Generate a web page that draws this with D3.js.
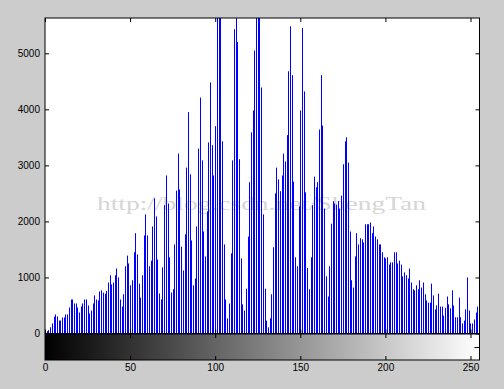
<!DOCTYPE html>
<html>
<head>
<meta charset="utf-8">
<script src="https://cdn.jsdelivr.net/npm/d3@7"></script>
<style>
body { margin: 0; background: #cccccc; }
svg { display: block; }
.tick text { font-family: "Liberation Sans", Arial, sans-serif; font-size: 10px; fill: #000; }
</style>
</head>
<body>
<svg width="504" height="389"></svg>
<script>
// pixel counts per gray level (bars above the top are clipped)
const counts = [
  24, 40, 60, 110, 180, 300, 340, 305, 232, 232,
  285, 285, 340, 340, 465, 607, 607, 536, 536, 465,
  375, 482, 536, 607, 607, 500, 357, 410, 536, 680,
  607, 590, 750, 770, 730, 710, 760, 910, 1040, 875,
  910, 1040, 1160, 1000, 607, 480, 700, 1200, 1390, 1250,
  860, 950, 1450, 1790, 1410, 890, 640, 1040, 1750, 2125,
  1750, 1200, 1300, 1910, 2410, 2090, 1320, 714, 607, 1180,
  2290, 2820, 2320, 1360, 730, 790, 1590, 2550, 3210, 2570,
  1550, 1125, 1770, 2960, 3950, 2840, 1660, 860, 980, 1910,
  3300, 4210, 3090, 1820, 1375, 2180, 3410, 4480, 3360, 2820,
  3700, 5800, 5800, 5800, 3430, 1590, 607, 270, 535, 1430,
  3090, 5430, 5800, 5200, 3110, 1340, 520, 410, 800, 1730,
  2700, 3590, 3980, 5050, 5800, 5800, 5800, 4390, 2125, 800,
  230, 110, 270, 700, 1540, 2500, 2960, 2750, 2540, 2820,
  3210, 3070, 3540, 4680, 5480, 4610, 2710, 1360, 1200, 2270,
  3980, 5450, 4320, 2520, 1170, 790, 1360, 2290, 2800, 2610,
  2700, 3640, 4610, 3710, 2230, 1020, 660, 1200, 1960, 2360,
  2320, 2300, 2360, 2230, 2460, 3020, 3430, 3500, 3050, 1820,
  950, 820, 1375, 1790, 1590, 1700, 1680, 1625, 1950, 1950,
  1950, 1980, 1790, 1910, 1730, 1680, 1590, 1590, 1450, 1360,
  1340, 1360, 1230, 1270, 1270, 1450, 1450, 1250, 1300, 1230,
  1020, 1090, 1040, 980, 1160, 910, 790, 770, 860, 790,
  950, 820, 910, 700, 590, 550, 550, 890, 680, 430,
  500, 710, 480, 480, 320, 460, 660, 520, 450, 770,
  500, 290, 290, 640, 290, 180, 230, 430, 1000, 410,
  180, 180, 250, 375, 480, 660
];
const yTicks = [0, 1000, 2000, 3000, 4000, 5000];
const xTicks = [0, 50, 100, 150, 200, 250];
const yMax = 5630;
const watermark = "http://blog.csdn.net/ShengTan";

const svg = d3.select("svg");

const plotLeft = 45, plotRight = 479.5, plotTop = 18, plotBottom = 333.5;
const barTop = 334, barBottom = 360;

const x = d3.scaleLinear().domain([0, 255]).range([plotLeft, 479]);
const y = d3.scaleLinear().domain([0, yMax]).range([plotBottom, plotTop]);
const yBar = d3.scaleLinear().domain([0, 1]).range([barBottom, barTop]);

const defs = svg.append("defs");
defs.append("clipPath")
    .attr("id", "plot")
    .append("rect")
    .attr("x", plotLeft)
    .attr("y", plotTop)
    .attr("width", plotRight - plotLeft)
    .attr("height", plotBottom - plotTop);

svg.append("rect")
    .attr("x", plotLeft)
    .attr("y", plotTop)
    .attr("width", plotRight - plotLeft)
    .attr("height", plotBottom - plotTop)
    .attr("fill", "#fff");

svg.append("text")
    .attr("x", 97)
    .attr("y", 210)
    .attr("textLength", 329)
    .attr("lengthAdjust", "spacingAndGlyphs")
    .style("font-family", "'Liberation Serif', 'DejaVu Serif', serif")
    .style("font-size", "19px")
    .style("fill", "#d6d6d6")
    .text(watermark);

svg.append("g")
    .attr("clip-path", "url(#plot)")
    .selectAll("line")
    .data(counts)
    .join("line")
    .attr("x1", (d, i) => Math.round(x(i)) + 0.5)
    .attr("x2", (d, i) => Math.round(x(i)) + 0.5)
    .attr("y1", y(0))
    .attr("y2", d => y(d))
    .attr("stroke", "#0000ff")
    .attr("stroke-width", 1);

// gray level colorbar
const grad = defs.append("linearGradient")
    .attr("id", "gray");
grad.selectAll("stop")
    .data([0, 1])
    .join("stop")
    .attr("offset", d => d)
    .attr("stop-color", d => d3.interpolateRgb("#000", "#fff")(d));

svg.append("rect")
    .attr("x", plotLeft)
    .attr("y", barTop)
    .attr("width", plotRight - plotLeft)
    .attr("height", barBottom - barTop)
    .attr("fill", "url(#gray)");

function addAxis(axis, tx, ty) {
    const g = svg.append("g")
        .attr("transform", `translate(${tx},${ty})`)
        .call(axis.tickSizeOuter(0));
    g.select(".domain").remove();
    g.selectAll(".tick line").attr("stroke", "#000");
    return g;
}

addAxis(d3.axisLeft(y).tickValues(yTicks).tickSize(-4).tickPadding(5).tickFormat(d3.format("d")), plotLeft, 0);
addAxis(d3.axisRight(y).tickValues(yTicks).tickSize(-4).tickFormat(""), plotRight, 0);
addAxis(d3.axisTop(x).tickValues(xTicks).tickSize(-4).tickFormat(""), 0, plotTop);
addAxis(d3.axisBottom(x).tickValues(xTicks).tickSize(-4).tickFormat(""), 0, plotBottom);
addAxis(d3.axisTop(x).tickValues(xTicks).tickSize(-4).tickFormat(""), 0, barTop);
addAxis(d3.axisBottom(x).tickValues(xTicks).tickSize(-4).tickPadding(4).tickFormat(d3.format("d")), 0, barBottom);
addAxis(d3.axisRight(yBar).tickValues([0.5]).tickSize(-5).tickFormat(""), plotRight, 0);
addAxis(d3.axisLeft(yBar).tickValues([0.5]).tickSize(-5).tickFormat(""), plotLeft, 0);

// frames
svg.append("rect")
    .attr("x", plotLeft)
    .attr("y", plotTop)
    .attr("width", plotRight - plotLeft)
    .attr("height", plotBottom - plotTop)
    .attr("fill", "none")
    .attr("stroke", "#000");

svg.append("rect")
    .attr("x", plotLeft)
    .attr("y", barTop)
    .attr("width", plotRight - plotLeft)
    .attr("height", barBottom - barTop)
    .attr("fill", "none")
    .attr("stroke", "#000");
</script>
</body>
</html>
